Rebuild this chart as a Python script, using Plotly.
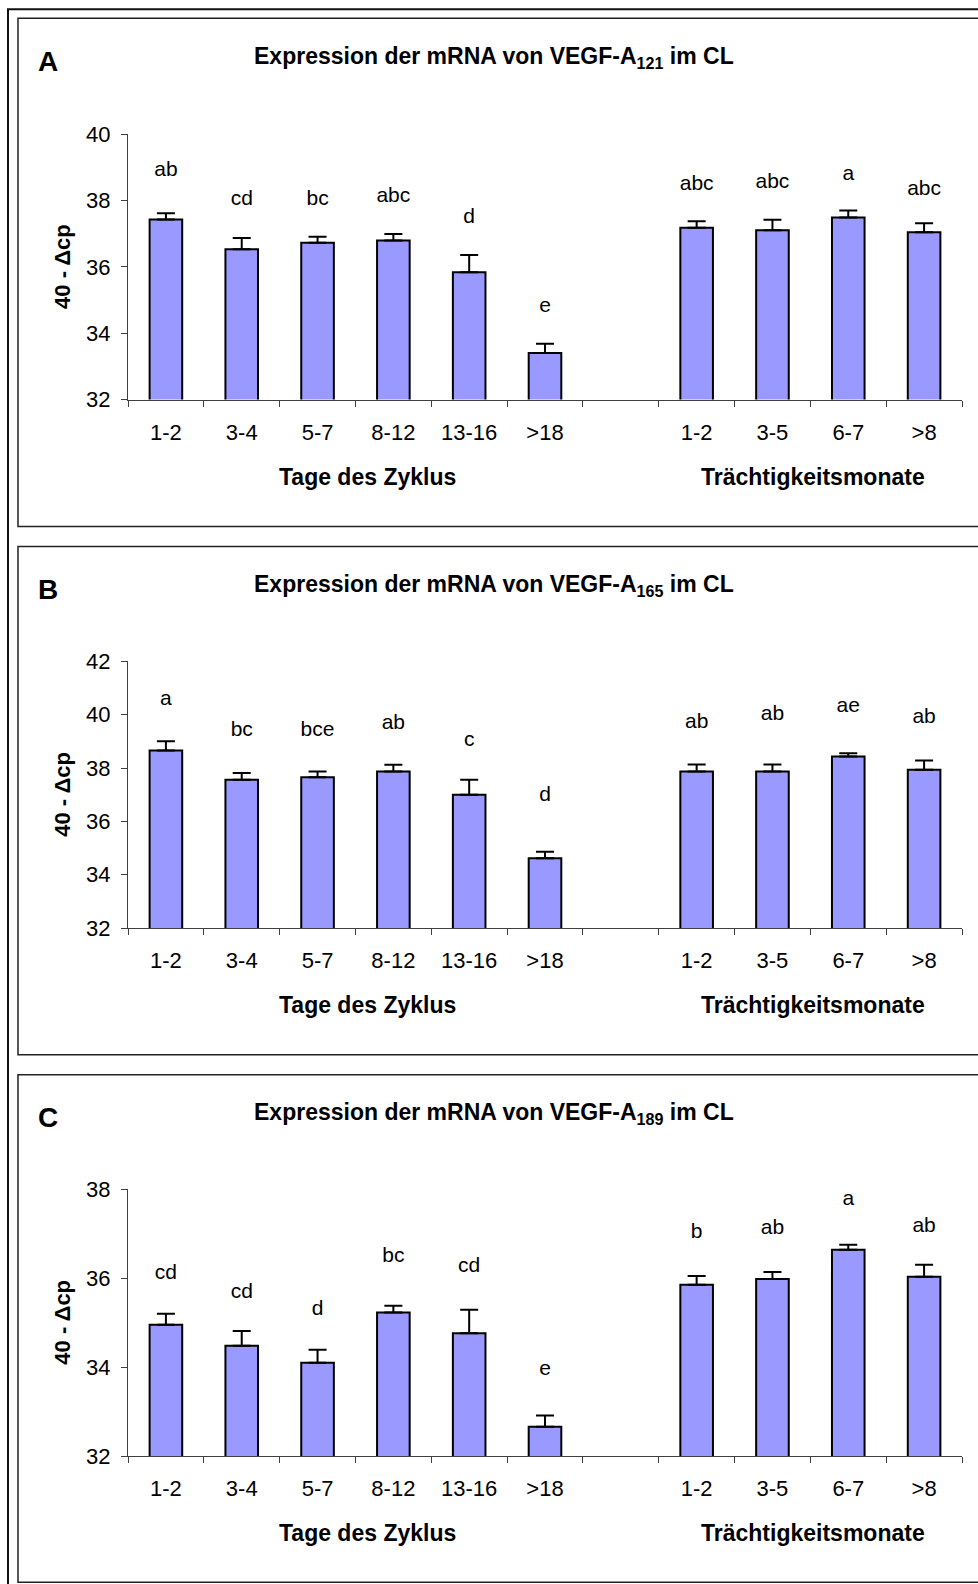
import plotly.graph_objects as go

# ---------------- data ----------------
cycle_labels = ["1-2", "3-4", "5-7", "8-12", "13-16", ">18"]
preg_labels = ["1-2", "3-5", "6-7", ">8"]

vals_A = [37.43, 36.53, 36.73, 36.80, 35.84, 33.40, 37.18, 37.11, 37.49, 37.05]
err_A = [0.19, 0.34, 0.18, 0.19, 0.52, 0.28, 0.20, 0.31, 0.21, 0.27]
sig_A = ["ab", "cd", "bc", "abc", "d", "e", "abc", "abc", "a", "abc"]
sig_y_A = [38.89, 38.02, 38.02, 38.13, 37.49, 34.80, 38.49, 38.54, 38.79, 38.32]

vals_B = [38.66, 37.56, 37.65, 37.87, 37.00, 34.62, 37.87, 37.87, 38.43, 37.94]
err_B = [0.34, 0.25, 0.22, 0.25, 0.56, 0.24, 0.26, 0.26, 0.12, 0.34]
sig_B = ["a", "bc", "bce", "ab", "c", "d", "ab", "ab", "ae", "ab"]
sig_y_B = [40.56, 39.41, 39.41, 39.66, 39.03, 36.97, 39.68, 39.99, 40.29, 39.87]

vals_C = [34.95, 34.48, 34.10, 35.23, 34.76, 32.66, 35.85, 35.98, 36.64, 36.03]
err_C = [0.25, 0.33, 0.29, 0.15, 0.53, 0.25, 0.20, 0.16, 0.11, 0.27]
sig_C = ["cd", "cd", "d", "bc", "cd", "e", "b", "ab", "a", "ab"]
sig_y_C = [36.10, 35.67, 35.30, 36.47, 36.26, 33.94, 37.03, 37.12, 37.76, 37.16]

y_ranges = [(32, 40), (32, 42), (32, 38)]
subscripts = ["121", "165", "189"]
panel_letters = ["A", "B", "C"]
x_title_cycle = "Tage des Zyklus"
x_title_preg = "Trächtigkeitsmonate"
y_title = "40 - \u0394cp"

# ---------------- layout helpers ----------------
W, H = 978, 1584
# empirical correction of the vertical placement observed in the rendered page
V_OFF, V_SCALE = 12.7, 0.9837

def px_x(p):
    return p / W

def px_y(p):
    return 1 - ((p - V_OFF) / V_SCALE) / H

cat_ids = ["c%d" % i for i in range(len(cycle_labels))] + ["gap"] + ["p%d" % i for i in range(len(preg_labels))]
bar_ids = [c for c in cat_ids if c != "gap"]
tick_text = cycle_labels + ["\u00a0"] + preg_labels

BAR_COLOR = "#9999FF"
FONT = "Liberation Sans, Arial, sans-serif"

plot_top = [135, 661.7, 1189.3]
plot_bot = [400, 928.3, 1456]
box_top = [19, 547, 1075]
box_bot = [527, 1055, 1582]
x_left, x_right = 128, 962

fig = go.Figure()
datasets = [(vals_A, err_A, sig_A, sig_y_A), (vals_B, err_B, sig_B, sig_y_B), (vals_C, err_C, sig_C, sig_y_C)]

annotations = []
shapes = []
for i, (vals, errs, sigs, sig_y) in enumerate(datasets):
    xa = "x" if i == 0 else "x%d" % (i + 1)
    ya = "y" if i == 0 else "y%d" % (i + 1)
    fig.add_trace(go.Bar(
        x=bar_ids, y=vals, xaxis=xa, yaxis=ya, width=0.43,
        marker=dict(color=BAR_COLOR, line=dict(color="black", width=2)),
        error_y=dict(type="data", symmetric=False, array=errs, arrayminus=[0] * len(errs),
                     color="black", thickness=2, width=9),
        showlegend=False, hoverinfo="skip"))
    fig.add_trace(go.Scatter(
        x=bar_ids, y=sig_y, xaxis=xa, yaxis=ya, mode="text", text=sigs,
        textposition="middle center", textfont=dict(family=FONT, size=21, color="black"),
        showlegend=False, hoverinfo="skip", cliponaxis=False))

    xkey = "xaxis" if i == 0 else "xaxis%d" % (i + 1)
    ykey = "yaxis" if i == 0 else "yaxis%d" % (i + 1)
    fig.update_layout(**{
        xkey: dict(domain=[px_x(x_left), px_x(x_right)], anchor=ya, type="category",
                   categoryorder="array", categoryarray=cat_ids, range=[-0.5, len(cat_ids) - 0.5],
                   tickvals=cat_ids, ticktext=tick_text, tickson="boundaries",
                   ticks="outside", ticklen=6, tickwidth=1, tickcolor="#404040",
                   ticklabelstandoff=13,
                   showline=True, linecolor="#404040", linewidth=1, showgrid=False, zeroline=False,
                   tickfont=dict(family=FONT, size=22, color="black"), fixedrange=True),
        ykey: dict(domain=[px_y(plot_bot[i]), px_y(plot_top[i])], anchor=xa,
                   range=list(y_ranges[i]), dtick=2, ticks="outside", ticklen=6, tickwidth=1,
                   tickcolor="#404040", showline=True, linecolor="#404040", linewidth=1,
                   showgrid=False, zeroline=False, ticklabelstandoff=6,
                   tickfont=dict(family=FONT, size=22, color="black"), fixedrange=True),
    })

    shapes.append(dict(type="rect", xref="paper", yref="paper", x0=px_x(18), x1=1.2,
                       y0=px_y(box_bot[i]), y1=px_y(box_top[i]),
                       line=dict(color="#222222", width=1.5), layer="below"))
    annotations.append(dict(text="<b>%s</b>" % panel_letters[i], xref="paper", yref="paper",
                            x=px_x(47.5), y=px_y(box_top[i] + 43), showarrow=False,
                            xanchor="center", yanchor="middle",
                            font=dict(family=FONT, size=28, color="black")))
    annotations.append(dict(text="<b>Expression der mRNA von VEGF-A<sub>%s</sub> im CL</b>" % subscripts[i],
                            xref="paper", yref="paper", x=px_x(494), y=px_y(box_top[i] + 39),
                            showarrow=False, xanchor="center", yanchor="middle",
                            font=dict(family=FONT, size=23, color="black")))
    annotations.append(dict(text="<b>%s</b>" % y_title, xref="paper", yref="paper",
                            x=px_x(63), y=px_y((plot_top[i] + plot_bot[i]) / 2), textangle=-90,
                            showarrow=False, xanchor="center", yanchor="middle",
                            font=dict(family=FONT, size=22, color="black")))
    annotations.append(dict(text="<b>%s</b>" % x_title_cycle, xref="paper", yref="paper",
                            x=px_x(367), y=px_y(plot_bot[i] + 77), showarrow=False,
                            xanchor="center", yanchor="middle",
                            font=dict(family=FONT, size=23, color="black")))
    annotations.append(dict(text="<b>%s</b>" % x_title_preg, xref="paper", yref="paper",
                            x=px_x(813), y=px_y(plot_bot[i] + 77), showarrow=False,
                            xanchor="center", yanchor="middle",
                            font=dict(family=FONT, size=23, color="black")))

shapes.append(dict(type="rect", xref="paper", yref="paper", x0=px_x(8), x1=1.2,
                   y0=-0.2, y1=px_y(10), line=dict(color="#111111", width=2), layer="below"))

fig.update_layout(width=W, height=H, margin=dict(l=0, r=0, t=0, b=0),
                  paper_bgcolor="white", plot_bgcolor="white",
                  annotations=annotations, shapes=shapes, showlegend=False,
                  font=dict(family=FONT, color="black"))

fig.write_html("out.html")
